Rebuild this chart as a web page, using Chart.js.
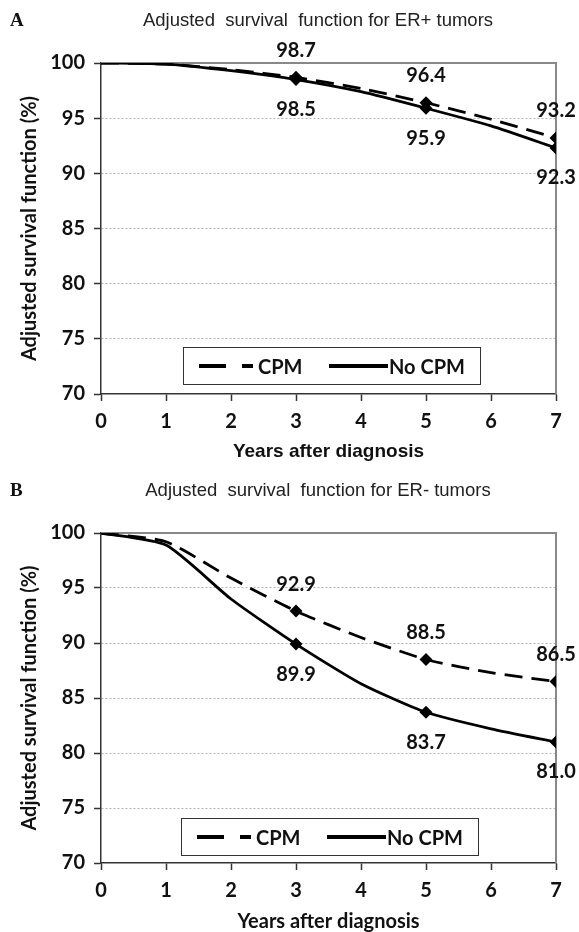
<!DOCTYPE html>
<html>
<head>
<meta charset="utf-8">
<script src="https://cdn.jsdelivr.net/npm/chart.js@4.4.0/dist/chart.umd.min.js"></script>
<style>
  body { margin: 0; background: #fff; }
  .panel { position: absolute; left: 0; width: 579px; height: 466px; }
  .letter { position: absolute; left: 10px; font: bold 19px "Liberation Serif"; color: #111; }
  .ttl { position: absolute; font: 18.5px "Liberation Sans"; white-space: pre; transform: translateX(-50%); color: #222; }
  .legend { position: absolute; width: 298px; height: 38px; border: 1.5px solid #333; box-sizing: border-box; font: bold 20px Lato; color: #111; }
  .seg { position: absolute; top: 16px; height: 3.5px; background: #000; }
  .lbl { position: absolute; top: 7px; line-height: 22px; }
</style>
</head>
<body>
<div class="panel" style="top:0">
  <canvas id="chartA" width="579" height="466"></canvas>
  <div class="letter" style="top:9px">A</div>
  <div class="ttl" style="left:318px;top:9px">Adjusted  survival  function for ER+ tumors</div>
  <div class="legend" style="left:183px;top:347px">
    <span class="seg" style="left:15px;width:27px"></span>
    <span class="seg" style="left:58px;width:11px"></span>
    <span class="lbl" style="left:74px">CPM</span>
    <span class="seg" style="left:145px;width:59px"></span>
    <span class="lbl" style="left:205px">No CPM</span>
  </div>
</div>
<div class="panel" style="top:466px">
  <canvas id="chartB" width="579" height="466"></canvas>
  <div class="letter" style="top:13px">B</div>
  <div class="ttl" style="left:318px;top:13px">Adjusted  survival  function for ER- tumors</div>
  <div class="legend" style="left:181px;top:352px">
    <span class="seg" style="left:15px;width:27px"></span>
    <span class="seg" style="left:58px;width:11px"></span>
    <span class="lbl" style="left:74px">CPM</span>
    <span class="seg" style="left:145px;width:59px"></span>
    <span class="lbl" style="left:205px">No CPM</span>
  </div>
</div>
<script>
// datos
const years = [0, 1, 2, 3, 4, 5, 6, 7];
const yTicks = [70, 75, 80, 85, 90, 95, 100];
const markedYears = [3, 5, 7];

// A: tumores ER+
const cpmPos = [100, 99.9, 99.4, 98.7, 97.7, 96.4, 94.9, 93.2];
const noCpmPos = [100, 99.9, 99.3, 98.5, 97.4, 95.9, 94.3, 92.3];

// B: tumores ER-
const cpmNeg = [100, 99.2, 95.9, 92.9, 90.5, 88.5, 87.3, 86.5];
const noCpmNeg = [100, 98.9, 94.0, 89.9, 86.3, 83.7, 82.2, 81.0];

const toPoints = vals => years.map((x, i) => ({ x: x, y: vals[i] }));

// etiquetas de valor en los puntos marcados
const valueLabels = {
  id: 'valueLabels',
  afterDatasetsDraw(chart) {
    const ctx = chart.ctx;
    ctx.save();
    ctx.font = 'bold 20px Lato';
    ctx.fillStyle = '#111';
    ctx.textAlign = 'center';
    ctx.textBaseline = 'middle';
    chart.data.datasets.forEach((ds, di) => {
      const meta = chart.getDatasetMeta(di);
      meta.data.forEach((pt, i) => {
        const v = ds.data[i];
        if (!markedYears.includes(v.x)) return;
        ctx.fillText(v.y.toFixed(1), pt.x, pt.y + ds.labelOffset);
      });
    });
    ctx.restore();
  }
};

// borde gris arriba y a la derecha
const frame = {
  id: 'frame',
  beforeDatasetsDraw(chart) {
    const { ctx, chartArea: a } = chart;
    ctx.save();
    ctx.strokeStyle = '#888';
    ctx.lineWidth = 2;
    ctx.beginPath();
    ctx.moveTo(a.left, a.top);
    ctx.lineTo(a.right, a.top);
    ctx.lineTo(a.right, a.bottom);
    ctx.stroke();
    ctx.restore();
  }
};

function makeChart(id, cpm, noCpm, opts) {
  const ctx = document.getElementById(id).getContext('2d');
  return new Chart(ctx, {
    type: 'line',
    data: {
      datasets: [
        {
          label: 'CPM',
          data: toPoints(cpm),
          borderColor: '#000',
          borderWidth: 2.8,
          borderDash: [18, 9],
          tension: 0.2,
          pointStyle: 'rectRot',
          pointRadius: c => markedYears.includes(c.raw.x) ? 4.5 : 0,
          pointBackgroundColor: '#000',
          pointBorderColor: '#000',
          labelOffset: -27,
        },
        {
          label: 'No CPM',
          data: toPoints(noCpm),
          borderColor: '#000',
          borderWidth: 2.8,
          tension: 0.2,
          pointStyle: 'rectRot',
          pointRadius: c => markedYears.includes(c.raw.x) ? 4.5 : 0,
          pointBackgroundColor: '#000',
          pointBorderColor: '#000',
          labelOffset: 30,
        },
      ],
    },
    options: {
      responsive: false,
      animation: false,
      layout: { padding: { top: opts.top, left: 10, right: 23, bottom: 0 } },
      plugins: { legend: { display: false }, tooltip: { enabled: false } },
      scales: {
        x: {
          type: 'linear',
          min: 0,
          max: 7,
          afterBuildTicks: s => { s.ticks = years.map(v => ({ value: v })); },
          afterFit: s => { s.height = opts.xHeight; },
          grid: { drawOnChartArea: false, drawTicks: true, tickLength: 7, tickColor: '#333', tickWidth: 1.5 },
          border: { color: '#333', width: 1.5 },
          ticks: { padding: 9, color: '#111', font: { family: 'Lato', weight: 'bold', size: 20 } },
          title: {
            display: true,
            text: 'Years after diagnosis',
            color: '#111',
            font: opts.xTitleFont,
            padding: { top: 0, bottom: opts.xTitlePad },
          },
        },
        y: {
          min: 70,
          max: 100,
          afterBuildTicks: s => { s.ticks = yTicks.map(v => ({ value: v })); },
          afterFit: s => { s.width = 91; },
          grid: {
            color: c => (c.tick && (c.tick.value === 100 || c.tick.value === 70)) ? 'rgba(0,0,0,0)' : '#b5b5b5',
            lineWidth: 1,
            tickLength: 7,
            tickColor: '#333',
            tickWidth: 1.5,
            tickBorderDash: [],
          },
          border: { color: '#333', width: 1.5, dash: [2, 2] },
          ticks: { padding: 9, color: '#111', font: { family: 'Lato', weight: 'bold', size: 20 } },
          title: {
            display: true,
            text: 'Adjusted survival function (%)',
            color: '#111',
            font: { family: 'Lato', weight: 'bold', size: 20 },
            padding: { top: 8, bottom: 0 },
          },
        },
      },
    },
    plugins: [frame, valueLabels],
  });
}

makeChart('chartA', cpmPos, noCpmPos, {
  top: 63,
  xHeight: 72,
  xTitleFont: { family: 'Liberation Sans', weight: 'bold', size: 19 },
  xTitlePad: 3,
});

makeChart('chartB', cpmNeg, noCpmNeg, {
  top: 67,
  xHeight: 69,
  xTitleFont: { family: 'Lato', weight: 'bold', size: 20 },
  xTitlePad: -2,
});
</script>
</body>
</html>
